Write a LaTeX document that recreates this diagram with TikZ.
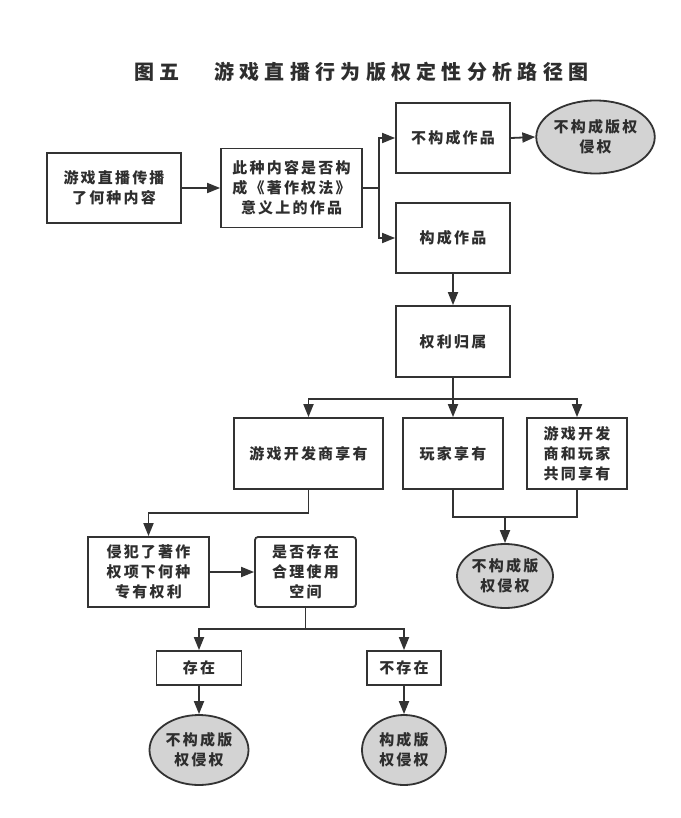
\documentclass[tikz,border=0pt]{standalone}
\usepackage{fontspec}
\setmainfont{Noto Sans CJK SC}
\usetikzlibrary{arrows.meta,shapes.geometric}
\newlength\cjkgap
\setlength\cjkgap{2.2pt}
\XeTeXinterchartokenstate=1
\newXeTeXintercharclass\CJKc
\newcount\cjkcnt
\cjkcnt="4E00
\loop
  \XeTeXcharclass\cjkcnt=\CJKc
  \advance\cjkcnt by 1
\ifnum\cjkcnt<"A000 \repeat
\XeTeXcharclass"300A=\CJKc
\XeTeXcharclass"300B=\CJKc
\XeTeXinterchartoks\CJKc\CJKc={\kern\cjkgap}
\definecolor{ln}{HTML}{333333}
\definecolor{tx}{HTML}{2E2E2E}
\definecolor{gfill}{HTML}{D3D3D3}
\tikzset{
  box/.style={draw=ln,line width=1.8pt,fill=white,inner sep=0pt,align=center,
    text=tx,font=\fontsize{15}{20}\selectfont\bfseries},
  rbox/.style={box,rounded corners=3pt},
  oval/.style={ellipse,draw=ln,line width=1.8pt,fill=gfill,inner sep=0pt,align=center,
    text=tx,font=\fontsize{15}{20}\selectfont\bfseries},
  conn/.style={draw=ln,line width=1.8pt},
  arr/.style={conn,-{Triangle[length=13pt,width=10pt]}},
  ttl/.style={inner sep=0pt,anchor=west,text=tx,font=\fontsize{20}{24}\selectfont\bfseries}
}
\begin{document}
\begin{tikzpicture}[x=1pt,y=-1pt]
\useasboundingbox (0,0) rectangle (680,818);
\fill[white] (0,0) rectangle (680,818);
% title
\setlength\cjkgap{5.3pt}
\node[ttl] (t1) at (134,72) {图五};
\node[ttl] (t2) at (214,72) {游戏直播行为版权定性分析路径图};
\setlength\cjkgap{2.2pt}
% nodes
\node[box,minimum width=134pt,minimum height=70pt] (A) at (114,188) {游戏直播传播\\了何种内容};
\node[box,minimum width=141pt,minimum height=79pt] (B) at (291.5,188) {此种内容是否构\\成《著作权法》\\意义上的作品};
\node[box,minimum width=114pt,minimum height=70pt] (C) at (453,138) {不构成作品};
\node[box,minimum width=114pt,minimum height=70pt] (D) at (453,238) {构成作品};
\node[oval,minimum width=105pt,minimum height=73pt] (E) at (595.5,137) {不构成版权\\侵权};
\node[box,minimum width=114pt,minimum height=71pt] (F) at (453,341.5) {权利归属};
\node[box,minimum width=149pt,minimum height=71pt] (G) at (308.5,453.5) {游戏开发商享有};
\node[box,minimum width=100pt,minimum height=71pt] (H) at (453,453.5) {玩家享有};
\node[box,minimum width=100pt,minimum height=71pt] (I) at (577,453.5) {游戏开发\\商和玩家\\共同享有};
\node[oval,minimum width=96pt,minimum height=64pt] (J) at (505,576) {不构成版\\权侵权};
\node[box,minimum width=121pt,minimum height=70pt] (K) at (148.5,572) {侵犯了著作\\权项下何种\\专有权利};
\node[rbox,minimum width=101pt,minimum height=70pt] (L) at (305.5,572) {是否存在\\合理使用\\空间};
\node[box,minimum width=85pt,minimum height=34pt] (M) at (199,668) {存在};
\node[box,minimum width=74pt,minimum height=34pt] (N) at (404,668) {不存在};
\node[oval,minimum width=99pt,minimum height=70pt] (O) at (199,750) {不构成版\\权侵权};
\node[oval,minimum width=84pt,minimum height=70pt] (P) at (404,750) {构成版\\权侵权};
% junction coordinates
\coordinate (b1) at (379,188);
\coordinate (f1) at (453,399);
\coordinate (h1) at (453,517);
\coordinate (i1) at (577,517);
\coordinate (j1) at (505,517);
\coordinate (g1) at (308.5,513);
\coordinate (l1) at (305.5,629);
% connectors
\draw[arr] (A.east) -- (B.west);
\draw[conn] (B.east) -- (b1);
\draw[arr] (b1) |- (C.west);
\draw[arr] (b1) |- (D.west);
\draw[arr] (C.east) -- (E.west);
\draw[arr] (D.south) -- (F.north);
\draw[conn] (F.south) -- (f1);
\draw[arr] (f1) -| (G.north);
\draw[arr] (f1) -- (H.north);
\draw[arr] (f1) -| (I.north);
\draw[conn] (H.south) -- (h1) -- (i1) -- (I.south);
\draw[arr] (j1) -- (J.north);
\draw[conn] (G.south) -- (g1);
\draw[arr] (g1) -| (K.north);
\draw[arr] (K.east) -- (L.west);
\draw[conn] (L.south) -- (l1);
\draw[arr] (l1) -| (M.north);
\draw[arr] (l1) -| (N.north);
\draw[arr] (M.south) -- (O.north);
\draw[arr] (N.south) -- (P.north);
\end{tikzpicture}
\end{document}
